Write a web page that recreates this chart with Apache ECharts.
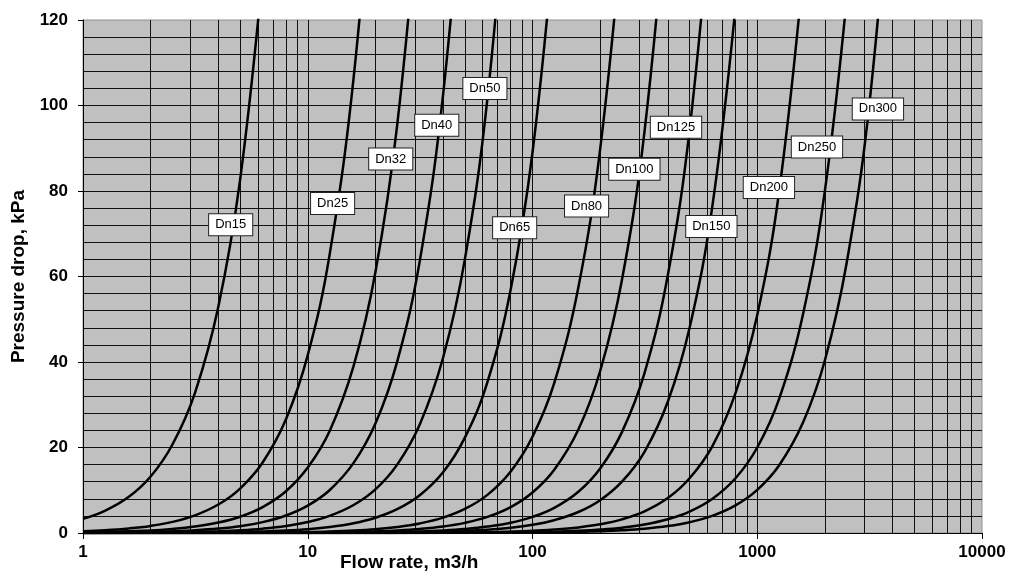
<!DOCTYPE html>
<html>
<head>
<meta charset="utf-8">
<title>Pressure drop</title>
<script src="https://cdn.jsdelivr.net/npm/echarts/dist/echarts.min.js"></script>
<style>
  html, body { margin: 0; padding: 0; background: #fff; }
  #chart { width: 1009px; height: 576px; }
</style>
</head>
<body>
<div id="chart"></div>
<script>
// curve names
const sizes = ["Dn15", "Dn25", "Dn32", "Dn40", "Dn50", "Dn65", "Dn80", "Dn100", "Dn125", "Dn150", "Dn200", "Dn250", "Dn300"];

// [flow m3/h, pressure drop kPa]
const dn15 = [[1, 3.31], [1.25, 5.17], [1.6, 8.46], [2, 13.2], [2.5, 20.7], [3.15, 32.8], [4, 52.9], [5, 82.6], [6.3, 131]];
const dn25 = [[1, 0.42], [1.25, 0.65], [1.6, 1.07], [2, 1.66], [2.5, 2.6], [3.15, 4.13], [4, 6.66], [5, 10.4], [6.3, 16.5], [8, 26.6], [10, 41.6], [12.5, 65], [16, 106.5], [20, 166]];
const dn32 = [[1, 0.15], [2, 0.61], [2.5, 0.95], [3.15, 1.51], [4, 2.44], [5, 3.81], [6.3, 6.06], [8, 9.77], [10, 15.3], [12.5, 23.8], [16, 39.1], [20, 61], [25, 95.4], [31.5, 151]];
const dn40 = [[1, 0.06], [2.5, 0.4], [3.15, 0.64], [4, 1.03], [5, 1.6], [6.3, 2.54], [8, 4.1], [10, 6.41], [12.5, 10], [16, 16.4], [20, 25.6], [25, 40.1], [31.5, 63.6], [40, 102.5], [50, 160]];
const dn50 = [[1, 0.03], [4, 0.41], [5, 0.64], [6.3, 1.02], [8, 1.64], [10, 2.56], [12.5, 4], [16, 6.55], [20, 10.2], [25, 16], [31.5, 25.4], [40, 41], [50, 64], [63, 101.6], [80, 164]];
const dn65 = [[1, 0.01], [5, 0.22], [6.3, 0.35], [8, 0.57], [10, 0.89], [12.5, 1.39], [16, 2.28], [20, 3.56], [25, 5.56], [31.5, 8.83], [40, 14.2], [50, 22.3], [63, 35.3], [80, 57], [100, 89], [125, 139]];
const dn80 = [[1, 0], [10, 0.22], [12.5, 0.35], [16, 0.58], [20, 0.9], [25, 1.4], [31.5, 2.23], [40, 3.59], [50, 5.62], [63, 8.92], [80, 14.4], [100, 22.5], [125, 35.1], [160, 57.5], [200, 89.8], [250, 140]];
const dn100 = [[1, 0], [10, 0.09], [16, 0.24], [20, 0.38], [25, 0.59], [31.5, 0.94], [40, 1.51], [50, 2.37], [63, 3.76], [80, 6.06], [100, 9.47], [125, 14.8], [160, 24.2], [200, 37.9], [250, 59.2], [315, 93.9], [400, 151]];
const dn125 = [[1, 0], [10, 0.04], [25, 0.24], [31.5, 0.37], [40, 0.6], [50, 0.94], [63, 1.5], [80, 2.41], [100, 3.77], [125, 5.89], [160, 9.65], [200, 15.1], [250, 23.6], [315, 37.4], [400, 60.3], [500, 94.3], [630, 150]];
const dn150 = [[1, 0], [10, 0.02], [40, 0.31], [50, 0.48], [63, 0.76], [80, 1.23], [100, 1.92], [125, 3], [160, 4.91], [200, 7.67], [250, 12], [315, 19], [400, 30.7], [500, 48], [630, 76.1], [800, 123]];
const dn200 = [[1, 0], [10, 0.01], [50, 0.13], [100, 0.51], [125, 0.8], [160, 1.31], [200, 2.04], [250, 3.19], [315, 5.06], [400, 8.16], [500, 12.8], [630, 20.2], [800, 32.7], [1000, 51], [1250, 79.7], [1600, 131]];
const dn250 = [[1, 0], [10, 0], [50, 0.05], [100, 0.2], [125, 0.31], [160, 0.51], [200, 0.8], [250, 1.25], [315, 1.99], [400, 3.21], [500, 5.01], [630, 7.95], [800, 12.8], [1000, 20], [1250, 31.3], [1600, 51.3], [2000, 80.1], [2500, 125]];
const dn300 = [[1, 0], [10, 0], [100, 0.1], [160, 0.26], [200, 0.4], [250, 0.63], [315, 1], [400, 1.62], [500, 2.53], [630, 4.01], [800, 6.47], [1000, 10.1], [1250, 15.8], [1600, 25.9], [2000, 40.4], [2500, 63.2], [3150, 100], [4000, 162]];
const curves = [dn15, dn25, dn32, dn40, dn50, dn65, dn80, dn100, dn125, dn150, dn200, dn250, dn300];

// where the name boxes sit
const labelFlow = [4.54, 12.9, 23.4, 37.5, 61.4, 83.3, 174, 284, 435, 625, 1127, 1844, 3443];
const labelDrop = [72.1, 77.1, 87.5, 95.4, 104, 71.4, 76.5, 85.1, 94.9, 71.7, 80.8, 90.3, 99.2];

// log grid lines between the decades
const minorFlow = [2, 3, 4, 5, 6, 7, 8, 9, 20, 30, 40, 50, 60, 70, 80, 90, 200, 300, 400, 500, 600, 700, 800, 900, 2000, 3000, 4000, 5000, 6000, 7000, 8000, 9000];

const FONT = "'Liberation Sans', Arial, sans-serif";

const chart = echarts.init(document.getElementById("chart"), null, { renderer: "canvas" });

const series = curves.map((pts, i) => {
  const s = {
    name: sizes[i],
    type: "line",
    data: pts,
    symbol: "none",
    smooth: 0.4,
    clip: true,
    lineStyle: { color: "#000", width: 2.5 },
    z: 3,
  };
  if (i === 0) {
    // minor vertical grid lines, drawn through the x scale
    s.markLine = {
      silent: true,
      symbol: ["none", "none"],
      label: { show: false },
      lineStyle: { color: "#111", width: 1, type: "solid" },
      data: minorFlow.map((v) => ({ xAxis: v })),
      z: 1,
    };
  }
  return s;
});

// name boxes
series.push({
  type: "scatter",
  data: sizes.map((n, i) => [labelFlow[i], labelDrop[i], n]),
  symbolSize: 0,
  itemStyle: { color: "#fff", opacity: 1 },
  z: 10,
  label: {
    show: true,
    position: "inside",
    formatter: (p) => p.value[2],
    fontFamily: FONT,
    fontSize: 13,
    lineHeight: 13,
    color: "#000",
    opacity: 1,
    backgroundColor: "#ffffff",
    borderColor: "#222",
    borderWidth: 1,
    padding: [4, 6, 4, 6],
  },
});

const option = {
  animation: false,
  textStyle: { fontFamily: FONT },
  title: {
    text: "Flow rate, m3/h",
    left: 340,
    top: 553,
    padding: 0,
    textStyle: { fontFamily: FONT, fontSize: 19, fontWeight: "bold", color: "#000" },
  },
  grid: {
    left: 83,
    right: 27,
    top: 20,
    bottom: 43,
    show: true,
    backgroundColor: "#c0c0c0",
    borderColor: "#909090",
    borderWidth: 1,
  },
  xAxis: {
    type: "log",
    logBase: 10,
    min: 1,
    max: 10000,
    axisLine: { show: true, lineStyle: { color: "#000", width: 1 } },
    axisTick: { show: true, inside: false, length: 6, lineStyle: { color: "#000" } },
    axisLabel: {
      margin: 11,
      fontFamily: FONT,
      fontSize: 17,
      fontWeight: "bold",
      color: "#000",
      formatter: (v) => String(Math.round(v)),
    },
    splitLine: { show: true, showMaxLine: false, lineStyle: { color: "#111", width: 1 } },
  },
  yAxis: {
    type: "value",
    min: 0,
    max: 120,
    interval: 20,
    name: "Pressure drop, kPa",
    nameLocation: "middle",
    nameGap: 55,
    nameTextStyle: { fontFamily: FONT, fontSize: 19, fontWeight: "bold", color: "#000" },
    axisLine: { show: true, lineStyle: { color: "#000", width: 1 } },
    axisTick: { show: true, inside: false, length: 5, lineStyle: { color: "#000" } },
    axisLabel: {
      margin: 15,
      fontFamily: FONT,
      fontSize: 17,
      fontWeight: "bold",
      color: "#000",
    },
    splitLine: { show: true, showMaxLine: false, lineStyle: { color: "#111", width: 1 } },
    minorTick: { show: false, splitNumber: 5 },
    minorSplitLine: { show: true, lineStyle: { color: "#111", width: 1 } },
  },
  series: series,
};

chart.setOption(option);
</script>
</body>
</html>
